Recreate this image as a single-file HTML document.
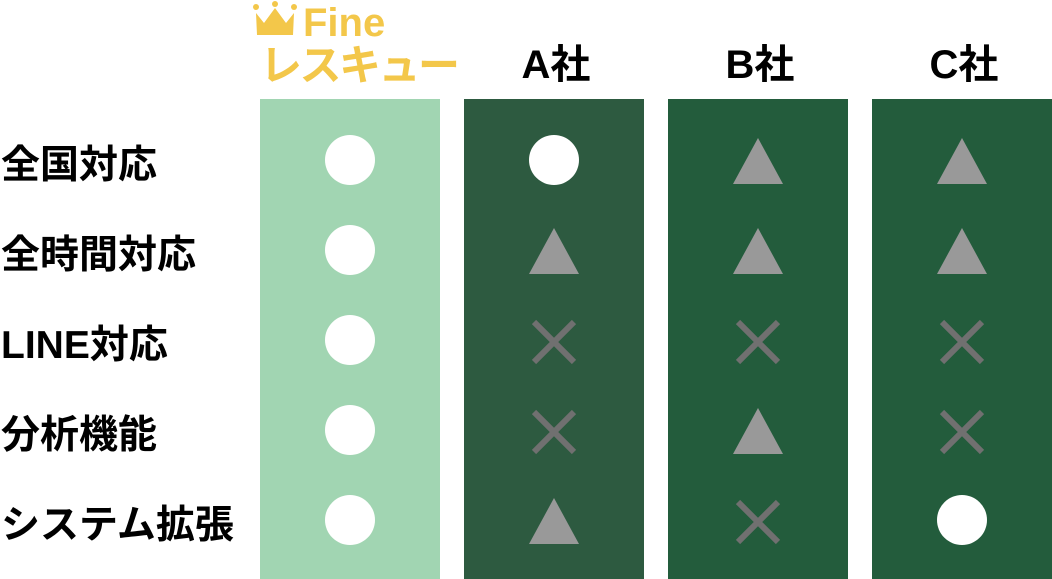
<!DOCTYPE html>
<html><head><meta charset="utf-8"><style>
html,body{margin:0;padding:0;background:#fff;width:1052px;height:579px;overflow:hidden}
svg{display:block}
text{font-family:"Liberation Sans","Noto Sans CJK JP",sans-serif;font-weight:bold}
</style></head><body>
<svg id="chart" width="1052" height="579">
<g>
<path d="M256 13 L264 23 L275 8 L286 23 L294 13 L293 35 L257 35 Z" fill="#f3c74a"/>
<circle cx="256" cy="7" r="3" fill="#f3c74a"/><circle cx="275" cy="4" r="3" fill="#f3c74a"/><circle cx="294" cy="7" r="3" fill="#f3c74a"/>
<text x="303" y="36" font-size="40" fill="#f3c74a">Fine</text>
<text x="260" y="80" font-size="42" fill="#f3c74a" textLength="200">レスキュー</text>
</g>
</svg>
<script>
const columns = ["Fine", "A社", "B社", "C社"];
const rows = ["全国対応", "全時間対応", "LINE対応", "分析機能", "システム拡張"];
const fineMarks = ["o","o","o","o","o"];
const aMarks = ["o","t","x","x","t"];
const bMarks = ["t","t","x","t","x"];
const cMarks = ["t","t","x","x","o"];
const marks = [fineMarks, aMarks, bMarks, cMarks];
const colFill = ["#a1d5b2","#2d5a40","#235c3c","#235c3c"];
const NS = "http://www.w3.org/2000/svg";
const svg = document.getElementById("chart");
const colX = i => 260 + i*204;
const colW = 180;
const rowY = j => 160 + j*90;
function mk(tag, attrs){const e=document.createElementNS(NS,tag);for(const k in attrs)e.setAttribute(k,attrs[k]);svg.appendChild(e);return e;}
columns.forEach((c,i)=>{
  const r = mk("rect",{x:colX(i),y:99,width:colW,height:480,fill:colFill[i]});
  
  
  if(i>0){
    const t = mk("text",{x:colX(i)+colW/2+2,y:78,"font-size":40,"text-anchor":"middle",fill:"#000"});
    t.textContent = c;
    
    
  }
});
rows.forEach((r,j)=>{
  const t = mk("text",{x:1,y:rowY(j)+18,"font-size":39,fill:"#000"});
  t.textContent = r;
  
  
});
marks.forEach((col,i)=>{
  col.forEach((m,j)=>{
    const cx = colX(i)+colW/2, cy = rowY(j);
    let e;
    if(m==="o"){ e = mk("circle",{cx:cx,cy:cy,r:25,fill:"#fff"}); }
    else if(m==="t"){ e = mk("polygon",{points:`${cx},${cy-22} ${cx+25},${cy+24} ${cx-25},${cy+24}`,fill:"#999"}); }
    else { e = mk("path",{d:`M${cx-20} ${cy-18} L${cx+20} ${cy+22} M${cx+20} ${cy-18} L${cx-20} ${cy+22}`,stroke:"#707070","stroke-width":6}); }
    
    
  });
});
</script>
</body></html>
